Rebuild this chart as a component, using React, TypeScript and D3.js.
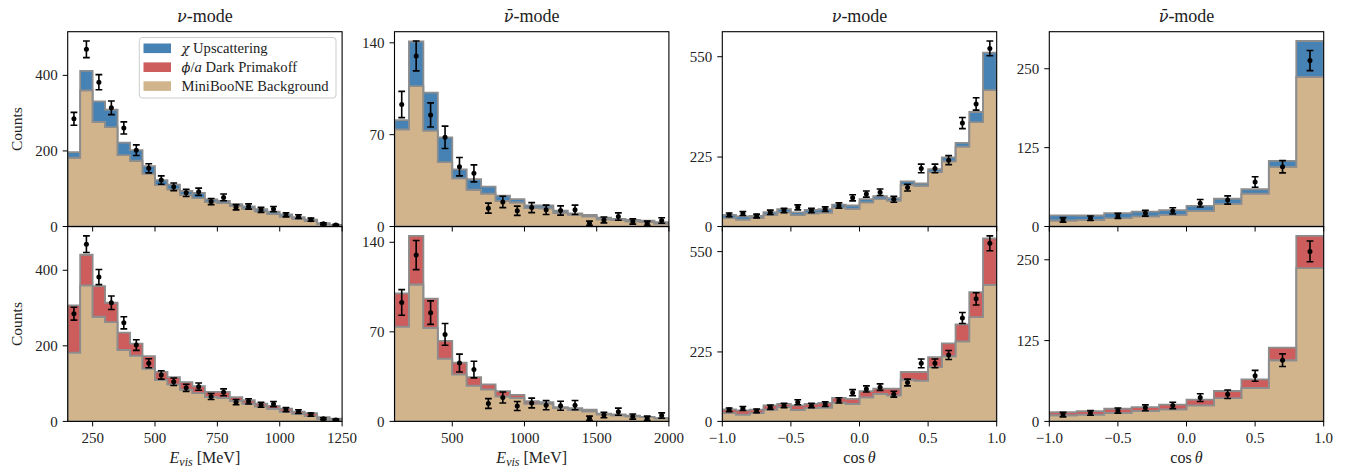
import React from 'react';
import * as d3 from 'd3';

// ---------- data ----------
// E_vis, nu-mode: 22 bins of 50 MeV from 150 to 1250 MeV
const evisNuEdges = d3.range(150, 1251, 50);
const evisNuBkg = [182, 360, 277, 263, 189, 174, 140, 110, 98, 84, 75, 65, 62, 54, 47, 40, 33, 26, 20, 14, 7, 3];
const evisNuUpsc = [15, 52, 54, 46, 33, 28, 20, 13, 13, 10, 14, 7, 6, 5, 6, 6, 6, 6, 5, 4, 2, 1];
const evisNuPrim = [125, 81, 81, 51, 46, 32, 33, 21, 19, 20, 18, 13, 16, 10, 9, 7, 8, 8, 6, 8, 4, 4];
const evisNuData = [285, 469, 382, 314, 261, 202, 154, 123, 105, 89, 92, 66, 77, 51, 53, 44, 46, 31, 26, 18, 7, 4];
const evisNuErr = [17, 22, 20, 18, 16, 14, 12, 11, 10, 9.5, 9.5, 8, 9, 7, 7, 6.6, 6.8, 5.5, 5, 4.2, 2.6, 2];

// E_vis, nubar-mode: 19 bins of 100 MeV from 100 to 2000 MeV
const evisNubarEdges = d3.range(100, 2001, 100);
const evisNubarBkg = [74, 107, 73, 49, 36.7, 28, 25, 19.5, 18.3, 14, 13.9, 10.3, 9, 7.8, 5.5, 4.8, 4, 3.4, 2.3];
const evisNubarUpsc = [7, 34, 29, 19, 6.8, 8, 5.4, 4, 2.5, 2, 2.1, 1.7, 1, 1.1, 1.3, 1, 1, 1.1, 1];
const evisNubarPrim = [26, 38, 23, 14, 9.3, 6.6, 4, 4.2, 2.5, 1.9, 1.1, 0.9, 1.4, 1.3, 0.5, 0.7, 0.4, 0.2, 0.3];
const evisNubarData = [93, 130, 85, 68, 45.6, 40.5, 14, 18.7, 12, 14.4, 12.7, 12.2, 12.7, 2.5, 5, 7.6, 3.8, 2.5, 4.6];
const evisNubarErr = [10, 11.4, 9.2, 8.5, 7, 6.5, 3.8, 4.3, 3.5, 3.8, 3.6, 3.5, 3.6, 1.6, 2.2, 2.8, 2, 1.6, 2.1];

// cos theta, nu-mode: 20 bins
const cosNuEdges = d3.range(0, 21).map((i) => -1 + i * 0.1);
const cosNuBkg = [27, 22, 27, 38, 46, 37, 43, 45, 61, 57, 78, 89, 84, 135, 132, 176, 211, 259, 338, 442];
const cosNuUpsc = [10.6, 10.5, 7, 8.4, 10, 8.5, 11, 11, 10, 11, 11, 9, 8, 11, 8, 10, 13, 12, 33, 121];
const cosNuPrim = [12, 13.6, 11, 14, 11, 15, 14, 15, 15, 16, 20, 17, 22, 25, 28, 32, 42, 55, 81, 151];
const cosNuData = [37.6, 42, 34, 46, 51.6, 62, 51.6, 56, 68, 93, 105, 111, 88, 126, 188, 188, 215, 335, 397, 577];
const cosNuErr = [6, 6.5, 6, 7, 7, 8, 7, 7.5, 8.5, 10, 10, 10.5, 9.5, 11, 14, 14, 14.5, 18, 20, 24];

// cos theta, nubar-mode: 10 bins
const cosNubarEdges = d3.range(0, 11).map((i) => -1 + i * 0.2);
const cosNubarBkg = [9.5, 10.4, 13.2, 16.2, 18.5, 24.7, 36, 52, 94.6, 237];
const cosNubarUpsc = [8, 7, 8, 7.5, 7.5, 8, 8, 7, 9.5, 57];
const cosNubarPrim = [5, 5.5, 6.4, 6, 7.3, 9, 11, 13, 19.5, 50];
const cosNubarData = [10.5, 13, 16.8, 21, 24.7, 36.8, 42, 70.5, 94.7, 263];
const cosNubarErr = [3.5, 3.6, 4, 4.6, 5, 6, 6.5, 8.4, 9.7, 16];

const evisNuTicks = [250, 500, 750, 1000, 1250];
const evisNubarTicks = [500, 1000, 1500, 2000];
const cosTicks = [-1, -0.5, 0, 0.5, 1];
const yTicksEvisNu = [0, 200, 400];
const yTicksEvisNubar = [0, 70, 140];
const yTicksCosNu = [0, 225, 550];
const yTicksCosNubar = [0, 125, 250];

const legendLabels = ['χ Upscattering', 'ϕ/a Dark Primakoff', 'MiniBooNE Background'];

// ---------- style ----------
const BLUE = '#4682b4';
const RED = '#cd5c5c';
const TAN = '#d2b48c';
const EDGE = '#8d8d8d';
const FONT = '"Liberation Serif", "DejaVu Serif", serif';
const GREEK = '"DejaVu Serif", serif';

const colLeft = [67.7, 394.5, 722.3, 1049.3];
const panelW = 274.4;
const rowTop = [31.7, 226.6];
const panelH = 194.8;

type Spec = {
  edges: number[];
  bkg: number[];
  sig: number[];
  sigColor: string;
  data: number[];
  err: number[];
  xTicks: number[];
  yTicks: number[];
  fmt: (v: number) => string;
};

function stepPolygon(edges: number[], lo: number[], hi: number[], x: any, y: any) {
  const pts: [number, number][] = [];
  for (let i = 0; i < hi.length; i++) {
    pts.push([x(edges[i]), y(hi[i])]);
    pts.push([x(edges[i + 1]), y(hi[i])]);
  }
  for (let i = lo.length - 1; i >= 0; i--) {
    pts.push([x(edges[i + 1]), y(lo[i])]);
    pts.push([x(edges[i]), y(lo[i])]);
  }
  return d3.line()(pts) + 'Z';
}

function Panel({ spec, col, row, id }: { spec: Spec; col: number; row: number; id: string }) {
  const left = colLeft[col];
  const top = rowTop[row];
  const bottom = top + panelH;
  const right = left + panelW;
  const x = d3.scaleLinear().domain([spec.edges[0], spec.edges[spec.edges.length - 1]]).range([left, right]);
  const tot = spec.bkg.map((b, i) => b + spec.sig[i]);
  const ymax = 1.05 * Math.max(d3.max(tot) as number, d3.max(spec.data.map((d, i) => d + spec.err[i])) as number);
  const y = d3.scaleLinear().domain([0, ymax]).range([bottom, top]);
  const zeros = spec.bkg.map(() => 0);
  const centers = spec.edges.slice(0, -1).map((e, i) => (e + spec.edges[i + 1]) / 2);
  return (
    <g>
      <defs>
        <clipPath id={id}>
          <rect x={left} y={top} width={panelW} height={panelH} />
        </clipPath>
      </defs>
      <g clipPath={`url(#${id})`}>
        <path d={stepPolygon(spec.edges, zeros, spec.bkg, x, y)} fill={TAN} stroke={EDGE} strokeWidth={1.8} />
        <path d={stepPolygon(spec.edges, spec.bkg, tot, x, y)} fill={spec.sigColor} stroke={EDGE} strokeWidth={1.8} />
        {centers.map((c, i) => {
          const cx = x(c);
          const y1 = y(spec.data[i] - spec.err[i]);
          const y2 = y(spec.data[i] + spec.err[i]);
          return (
            <g key={i} stroke="#000" strokeWidth={1.6}>
              <line x1={cx} x2={cx} y1={y1} y2={y2} />
              <line x1={cx - 3.4} x2={cx + 3.4} y1={y1} y2={y1} />
              <line x1={cx - 3.4} x2={cx + 3.4} y1={y2} y2={y2} />
              <circle cx={cx} cy={y(spec.data[i])} r={2.5} fill="#000" stroke="none" />
            </g>
          );
        })}
      </g>
      {spec.yTicks.map((t) => (
        <g key={'y' + t}>
          <line x1={left - 5} x2={left} y1={y(t)} y2={y(t)} stroke="#000" strokeWidth={1} />
          <text x={left - 10} y={y(t)} dy="0.34em" textAnchor="end" fontFamily={FONT} fontSize={15} fill="#222">
            {String(t)}
          </text>
        </g>
      ))}
      {spec.xTicks.map((t) => (
        <g key={'x' + t}>
          <line x1={x(t)} x2={x(t)} y1={bottom} y2={bottom + 5} stroke="#000" strokeWidth={1} />
          {row === 1 && (
            <text x={x(t)} y={bottom + 22} textAnchor="middle" fontFamily={FONT} fontSize={15} fill="#222">
              {spec.fmt(t)}
            </text>
          )}
        </g>
      ))}
      <rect x={left} y={top} width={panelW} height={panelH} fill="none" stroke="#000" strokeWidth={1.1} />
    </g>
  );
}

export default function App() {
  const intFmt = (v: number) => String(v);
  const cosFmt = d3.format('.1f');
  const base = [
    { edges: evisNuEdges, bkg: evisNuBkg, up: evisNuUpsc, pr: evisNuPrim, data: evisNuData, err: evisNuErr, xTicks: evisNuTicks, yTicks: yTicksEvisNu, fmt: intFmt },
    { edges: evisNubarEdges, bkg: evisNubarBkg, up: evisNubarUpsc, pr: evisNubarPrim, data: evisNubarData, err: evisNubarErr, xTicks: evisNubarTicks, yTicks: yTicksEvisNubar, fmt: intFmt },
    { edges: cosNuEdges, bkg: cosNuBkg, up: cosNuUpsc, pr: cosNuPrim, data: cosNuData, err: cosNuErr, xTicks: cosTicks, yTicks: yTicksCosNu, fmt: cosFmt },
    { edges: cosNubarEdges, bkg: cosNubarBkg, up: cosNubarUpsc, pr: cosNubarPrim, data: cosNubarData, err: cosNubarErr, xTicks: cosTicks, yTicks: yTicksCosNubar, fmt: cosFmt },
  ];
  const titles = [false, true, false, true];
  const centerX = (c: number) => colLeft[c] + panelW / 2;
  const legX = 139.3;
  const legY = 37.5;
  const legColors = [BLUE, RED, TAN];
  return (
    <svg width={1346} height={470} style={{ position: 'absolute', left: 0, top: 0, background: '#fff' }}>
      <rect width={1346} height={470} fill="#fff" />
      {base.map((b, c) =>
        [0, 1].map((r) => (
          <Panel
            key={`${c}-${r}`}
            id={`clip-${c}-${r}`}
            col={c}
            row={r}
            spec={{
              edges: b.edges,
              bkg: b.bkg,
              sig: r === 0 ? b.up : b.pr,
              sigColor: r === 0 ? BLUE : RED,
              data: b.data,
              err: b.err,
              xTicks: b.xTicks,
              yTicks: b.yTicks,
              fmt: b.fmt,
            }}
          />
        ))
      )}
      {titles.map((bar, c) => (
        <text key={'t' + c} x={centerX(c)} y={22} textAnchor="middle" fontFamily={FONT} fontSize={18} fill="#222">
          <tspan fontStyle="italic" fontFamily={GREEK} fontSize={16}>{bar ? 'ν\u0304' : 'ν'}</tspan>-mode
        </text>
      ))}
      {[0, 1].map((r) => (
        <text
          key={'yl' + r}
          transform={`translate(22,${rowTop[r] + panelH / 2}) rotate(-90)`}
          textAnchor="middle"
          fontFamily={FONT}
          fontSize={15.5}
          fill="#222"
        >
          Counts
        </text>
      ))}
      {[0, 1].map((c) => (
        <text key={'xl' + c} x={centerX(c)} y={463} textAnchor="middle" fontFamily={FONT} fontSize={16} fill="#222">
          <tspan fontStyle="italic">E</tspan>
          <tspan fontStyle="italic" fontSize={12} dy={3}>vis</tspan>
          <tspan dy={-3}>{'\u00a0[MeV]'}</tspan>
        </text>
      ))}
      {[2, 3].map((c) => (
        <text key={'xl' + c} x={centerX(c)} y={463} textAnchor="middle" fontFamily={FONT} fontSize={16} fill="#222">
          cos<tspan fontStyle="italic">{'\u2009θ'}</tspan>
        </text>
      ))}
      <g>
        <rect x={legX} y={legY} width={196.7} height={60.5} rx={3} fill="#fff" fillOpacity={0.8} stroke="#cccccc" strokeWidth={1} />
        {legendLabels.map((lab, i) => {
          const cy = 48.2 + i * 18.9;
          return (
            <g key={lab}>
              <rect x={143.5} y={cy - 4.7} width={27.5} height={9.6} fill={legColors[i]} />
              <text x={181.5} y={cy} dy="0.35em" fontFamily={FONT} fontSize={14.6} fill="#222">
                {i === 0 && (
                  <>
                    <tspan fontStyle="italic" fontFamily={GREEK} fontSize={13}>χ</tspan>
                    <tspan>{' Upscattering'}</tspan>
                  </>
                )}
                {i === 1 && (
                  <>
                    <tspan fontStyle="italic" fontFamily={GREEK} fontSize={13}>ϕ</tspan>
                    <tspan>/</tspan>
                    <tspan fontStyle="italic">a</tspan>
                    <tspan>{' Dark Primakoff'}</tspan>
                  </>
                )}
                {i === 2 && <tspan>{lab}</tspan>}
              </text>
            </g>
          );
        })}
      </g>
    </svg>
  );
}
